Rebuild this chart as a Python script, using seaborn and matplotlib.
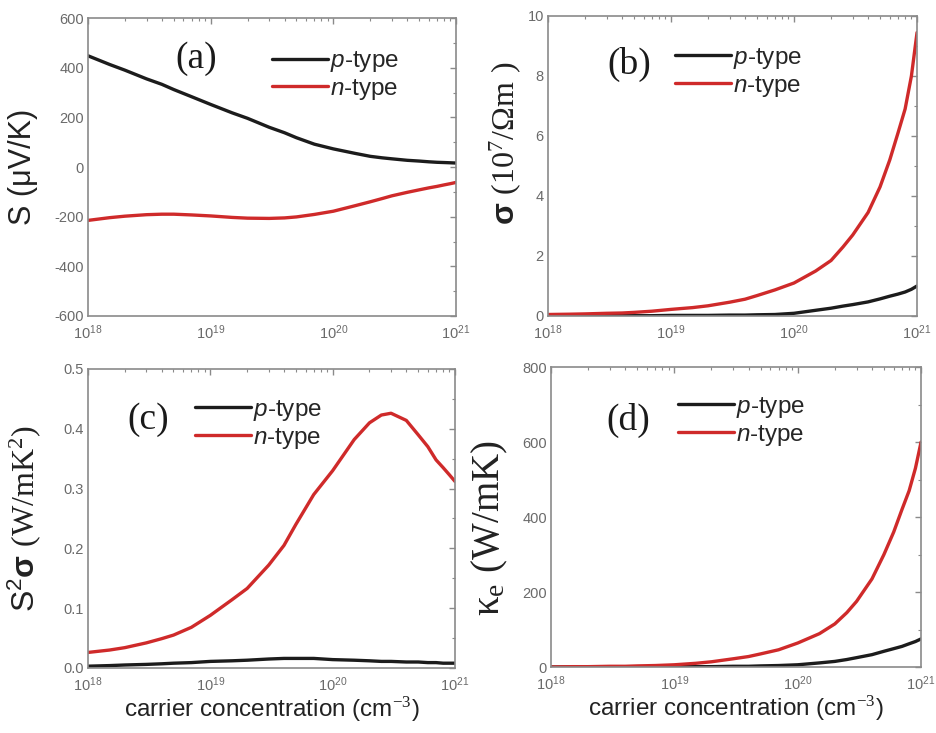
import numpy as np
import pandas as pd
import matplotlib
matplotlib.use("Agg")
import matplotlib.pyplot as plt
import seaborn as sns
from matplotlib.ticker import LogLocator, AutoMinorLocator, NullFormatter, MultipleLocator

# carrier concentration (cm^-3)
conc = [1e18, 1.5e18, 2e18, 3e18, 4e18, 5e18, 7e18,
        1e19, 1.5e19, 2e19, 3e19, 4e19, 5e19, 7e19,
        1e20, 1.5e20, 2e20, 2.5e20, 3e20, 4e20, 5e20, 6e20, 7e20, 8e20, 9e20, 1e21]

# Seebeck coefficient (uV/K)
seebeck_p = [448, 413, 390, 355, 333, 312, 283,
             252, 218, 196, 160, 138, 118, 92,
             73, 55, 43, 37, 33, 27, 24, 21, 19, 18, 17, 16]
seebeck_n = [-215, -204, -198, -192, -190, -190, -193,
             -197, -203, -206, -207, -205, -201, -191,
             -178, -156, -140, -127, -116, -102, -92, -84, -78, -72, -67, -62]

# electrical conductivity (10^7 / Ohm m)
sigma_p = [0.01, 0.01, 0.01, 0.01, 0.01, 0.01, 0.01,
           0.02, 0.02, 0.02, 0.03, 0.03, 0.04, 0.05,
           0.09, 0.19, 0.26, 0.33, 0.38, 0.47, 0.57, 0.66, 0.73, 0.80, 0.89, 1.00]
sigma_n = [0.05, 0.06, 0.07, 0.09, 0.10, 0.12, 0.16,
           0.22, 0.28, 0.34, 0.46, 0.56, 0.68, 0.87,
           1.10, 1.50, 1.85, 2.30, 2.70, 3.45, 4.30, 5.20, 6.10, 6.90, 8.00, 9.45]

# power factor S^2 sigma (W/mK^2)
pf_p = [0.003, 0.004, 0.005, 0.006, 0.007, 0.008, 0.009,
        0.011, 0.012, 0.013, 0.015, 0.016, 0.016, 0.016,
        0.014, 0.013, 0.012, 0.011, 0.011, 0.010, 0.010, 0.009, 0.009, 0.008, 0.008, 0.008]
pf_n = [0.026, 0.030, 0.034, 0.042, 0.049, 0.055, 0.068,
        0.088, 0.114, 0.133, 0.172, 0.205, 0.240, 0.290,
        0.330, 0.382, 0.410, 0.423, 0.426, 0.414, 0.390, 0.370, 0.348, 0.335, 0.323, 0.312]

# electronic thermal conductivity (W/mK)
kappa_p = [0, 0, 0, 0, 0, 0, 0,
           1, 1, 1, 2, 2, 3, 4,
           6, 11, 15, 20, 25, 33, 42, 49, 55, 62, 68, 75]
kappa_n = [0, 1, 1, 2, 2, 3, 4,
           6, 10, 14, 22, 28, 35, 46,
           64, 89, 115, 145, 175, 235, 300, 360, 420, 470, 530, 600]

types = ["p-type", "n-type"]
legend_labels = [r"$\mathit{p}$-type", r"$\mathit{n}$-type"]
panel_tags = ["(a)", "(b)", "(c)", "(d)"]

sns.set_theme(style="white")
plt.rcParams["font.family"] = ["Liberation Sans", "DejaVu Sans"]
plt.rcParams["axes.unicode_minus"] = False
plt.rcParams["mathtext.fontset"] = "custom"
plt.rcParams["mathtext.rm"] = "Liberation Serif"
plt.rcParams["mathtext.sf"] = "Liberation Sans"
plt.rcParams["mathtext.it"] = "Liberation Sans:italic"
plt.rcParams["mathtext.bf"] = "Liberation Sans:bold"

palette = {"p-type": "#1c1c1c", "n-type": "#cf2a2a"}


def frame(series_p, series_n):
    return pd.DataFrame({
        "conc": conc + conc,
        "value": series_p + series_n,
        "type": ["p-type"] * len(conc) + ["n-type"] * len(conc),
    })


panels = [
    dict(df=frame(seebeck_p, seebeck_n), ylim=(-600, 600), major=200,
         ylabel="S (μV/K)", ysize=22, ylab_xy=(-0.136, 0.5),
         rect=[0.0939, 0.5689, 0.3928, 0.4065],
         tag_xy=(0.294, 0.862), leg_xy=(0.50, 0.896), xlabel=False),
    dict(df=frame(sigma_p, sigma_n), ylim=(0, 10), major=2,
         ylabel=r"$\mathbf{\sigma}\ \mathrm{(10^7/\Omega m\ )}$", ysize=23,
         ylab_xy=(-0.068, 0.577),
         rect=[0.5848, 0.5689, 0.3939, 0.4093],
         tag_xy=(0.22, 0.84), leg_xy=(0.344, 0.90), xlabel=False),
    dict(df=frame(pf_p, pf_n), ylim=(0, 0.5), major=0.1,
         ylabel=r"$\mathsf{S^2}\mathbf{\sigma}\ \mathrm{(W/mK^2)}$", ysize=23,
         ylab_xy=(-0.123, 0.5),
         rect=[0.0939, 0.0887, 0.3917, 0.4079],
         tag_xy=(0.163, 0.83), leg_xy=(0.292, 0.903), xlabel=True),
    dict(df=frame(kappa_p, kappa_n), ylim=(0, 800), major=200,
         ylabel=r"$\mathrm{\kappa_e\ (W/mK)}$", ysize=28,
         ylab_xy=(-0.111, 0.463),
         rect=[0.588, 0.09, 0.395, 0.4093],
         tag_xy=(0.21, 0.823), leg_xy=(0.343, 0.907), xlabel=True),
]

fig = plt.figure(figsize=(9.37, 7.33), dpi=100)
grey = "#8a8a8a"
tick_grey = "#6a6a6a"

for tag, p in zip(panel_tags, panels):
    ax = fig.add_axes(p["rect"])
    sns.lineplot(data=p["df"], x="conc", y="value", hue="type",
                 hue_order=types, palette=palette, linewidth=2.4,
                 ax=ax, legend=False)
    ax.set_xscale("log")
    ax.set_xlim(1e18, 1e21)
    ax.set_ylim(*p["ylim"])
    ax.yaxis.set_major_locator(MultipleLocator(p["major"]))
    ax.yaxis.set_minor_locator(AutoMinorLocator(2))
    ax.xaxis.set_major_locator(LogLocator(base=10, numticks=10))
    ax.xaxis.set_minor_locator(LogLocator(base=10, subs=np.arange(2, 10), numticks=20))
    ax.xaxis.set_minor_formatter(NullFormatter())
    ax.tick_params(which="both", direction="in", top=True, right=True,
                   color=grey, labelcolor=tick_grey, labelsize=10.5)
    ax.tick_params(axis="y", pad=3)
    ax.tick_params(axis="x", pad=5)
    ax.tick_params(which="major", length=4, width=1)
    ax.tick_params(which="minor", length=2.5, width=0.8)
    for s in ax.spines.values():
        s.set_color(grey)
        s.set_linewidth(1.2)

    ax.set_ylabel(p["ylabel"], fontsize=p["ysize"], color="#222222")
    ax.yaxis.set_label_coords(*p["ylab_xy"])
    if p["xlabel"]:
        ax.set_xlabel(r"carrier concentration (cm$^{-3}$)", fontsize=17.5,
                      color="#222222", labelpad=0.5)
    else:
        ax.set_xlabel("")

    ax.text(p["tag_xy"][0], p["tag_xy"][1], tag, transform=ax.transAxes,
            ha="center", va="center", fontsize=27, family="Liberation Serif",
            color="#1a1a1a")

    handles = [plt.Line2D([], [], color=palette[t], linewidth=2.4) for t in types]
    ax.legend(handles, legend_labels, loc="upper left",
              bbox_to_anchor=p["leg_xy"], frameon=False, fontsize=17.5,
              handlelength=2.3, handletextpad=0.1, labelspacing=0.12,
              borderaxespad=0, borderpad=0)

fig.savefig("out.png", dpi=100, facecolor="white")
